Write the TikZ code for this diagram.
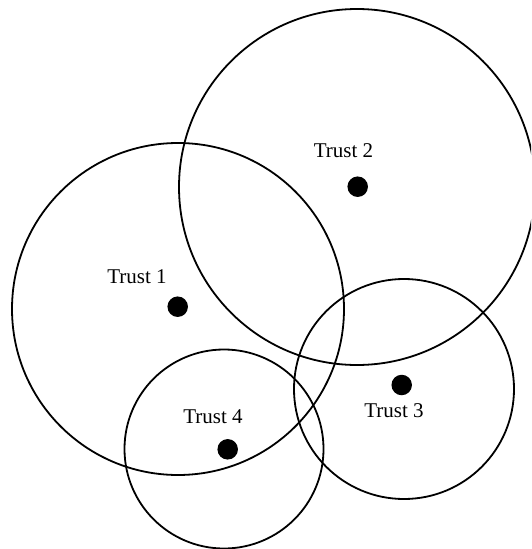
\documentclass[tikz,border=0pt]{standalone}
\usepackage{fontspec}
\setmainfont{Liberation Serif}

\begin{document}
\begin{tikzpicture}[x=1pt, y=-1pt, line width=1.8pt,
    dot/.style={circle, fill=black, inner sep=0pt, minimum size=20.5pt},
    lbl/.style={anchor=base, font=\fontsize{21}{25}\selectfont}]
  \clip (0,0) rectangle (531,549);
  % centres of the four trust areas
  \coordinate (C1) at (178,309);
  \coordinate (C2) at (357,187);
  \coordinate (C3) at (404,389);
  \coordinate (C4) at (224,449);

  \draw (C1) circle (166pt);
  \draw (C2) circle (178pt);
  \draw (C3) circle (110pt);
  \draw (C4) circle (99.5pt);

  \node[dot] (D1) at (177.7,306.7) {};
  \node[dot] (D2) at (357.7,186.7) {};
  \node[dot] (D3) at (401.7,385) {};
  \node[dot] (D4) at (227.7,449.3) {};

  \node[lbl] (T1) at (137,283) {Trust 1};
  \node[lbl] (T2) at (343.5,157) {Trust 2};
  \node[lbl] (T3) at (394,417) {Trust 3};
  \node[lbl] (T4) at (213,423) {Trust 4};
\end{tikzpicture}
\end{document}
